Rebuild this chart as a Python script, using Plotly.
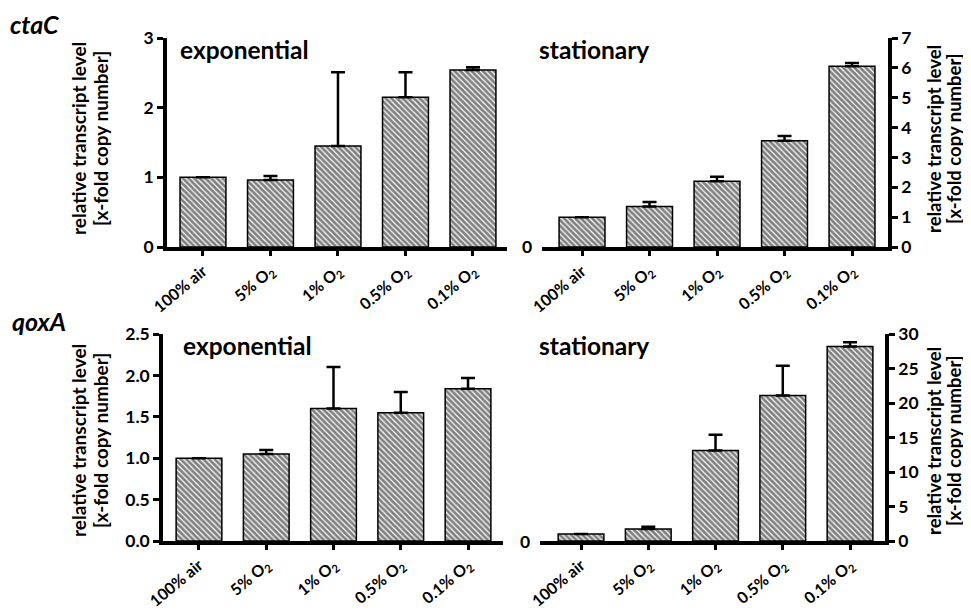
import plotly.graph_objects as go

categories = ["100% air", "5% O<sub>2</sub>", "1% O<sub>2</sub>", "0.5% O<sub>2</sub>", "0.1% O<sub>2</sub>"]

ctaC_exp = [1.0, 0.96, 1.45, 2.15, 2.54]
ctaC_exp_err = [0.0, 0.06, 1.06, 0.36, 0.04]
ctaC_stat = [1.0, 1.36, 2.2, 3.56, 6.05]
ctaC_stat_err = [0.0, 0.15, 0.15, 0.16, 0.11]

qoxA_exp = [1.0, 1.05, 1.6, 1.55, 1.84]
qoxA_exp_err = [0.0, 0.05, 0.5, 0.25, 0.13]
qoxA_stat = [1.0, 1.75, 13.1, 21.1, 28.2]
qoxA_stat_err = [0.0, 0.3, 2.3, 4.3, 0.6]

FONT = "Lato"
OFF = 8  # page body margin
W, H = 971 - OFF, 616 - OFF

fig = go.Figure()

panels = [
    ("x", "y", ctaC_exp, ctaC_exp_err),
    ("x2", "y2", ctaC_stat, ctaC_stat_err),
    ("x3", "y3", qoxA_exp, qoxA_exp_err),
    ("x4", "y4", qoxA_stat, qoxA_stat_err),
]
for xa, ya, vals, errs in panels:
    fig.add_trace(go.Bar(
        x=list(range(len(categories))), y=vals, xaxis=xa, yaxis=ya,
        marker=dict(color="white", line=dict(color="black", width=1.5),
                    pattern=dict(shape="\\", fgcolor="black", bgcolor="white", size=4, solidity=0.7)),
        error_y=dict(type="data", symmetric=False, array=errs, arrayminus=[0]*len(errs),
                     color="black", thickness=2.5, width=7),
        showlegend=False,
    ))

def px(v):
    return (v - OFF) / W

def py(v):
    return (H - (v - OFF)) / H

top_dom = [py(247), py(38)]
bot_dom = [py(541), py(334)]

xcommon = dict(tickmode="array", tickvals=list(range(5)), ticktext=categories, tickangle=-40,
               showline=True, linecolor="black", linewidth=3.5, ticks="outside", ticklen=5,
               tickwidth=3, tickcolor="black", showgrid=False, zeroline=False, automargin=False,
               tickfont=dict(family=FONT, size=16, color="black", weight="bold"))
ycommon = dict(showline=True, linecolor="black", linewidth=3.5, ticks="outside", ticklen=6,
               tickwidth=3, tickcolor="black", showgrid=False, zeroline=False, automargin=False,
               tickfont=dict(family=FONT, size=17.5, color="black", weight="bold"))

fig.update_layout(
    width=W, height=H, margin=dict(l=0, r=0, t=0, b=0, pad=0, autoexpand=False),
    paper_bgcolor="white", plot_bgcolor="white", bargap=0.32,
    xaxis=dict(domain=[px(167), px(507)], range=[-0.533, 4.504], anchor="y", **xcommon),
    yaxis=dict(domain=top_dom, range=[0, 3], tickvals=[0, 1, 2, 3], anchor="x", **ycommon),
    xaxis2=dict(domain=[px(542), px(888)], range=[-0.593, 4.533], anchor="y2", **xcommon),
    yaxis2=dict(domain=top_dom, range=[0, 7], tickvals=list(range(8)), anchor="x2", side="right", **ycommon),
    xaxis3=dict(domain=[px(163), px(503)], range=[-0.535, 4.52], anchor="y3", **xcommon),
    yaxis3=dict(domain=bot_dom, range=[0, 2.5], tickvals=[0, 0.5, 1, 1.5, 2, 2.5],
                tickformat=".1f", anchor="x3", **ycommon),
    xaxis4=dict(domain=[px(540), px(885)], range=[-0.61, 4.52], anchor="y4", **xcommon),
    yaxis4=dict(domain=bot_dom, range=[0, 30], tickvals=[0, 5, 10, 15, 20, 25, 30], anchor="x4",
                side="right", **ycommon),
)

title_line1 = "relative transcript level"
title_line2 = "[x-fold copy number]"
ann = []
def add_text(text, x, y, size, italic=False, angle=0, xanchor="left"):
    ann.append(dict(text=text, x=px(x), y=py(y), xref="paper", yref="paper", showarrow=False,
                    xanchor=xanchor, yanchor="middle", textangle=angle,
                    font=dict(family=FONT, size=size, color="black", weight="bold",
                              style="italic" if italic else "normal")))

add_text("ctaC", 8, 24, 25, italic=True)
add_text("qoxA", 10, 321, 25, italic=True)
add_text("exponential", 178, 49, 24.5)
add_text("stationary", 537, 49, 24.5)
add_text("exponential", 181, 345, 24.5)
add_text("stationary", 537, 345, 24.5)
add_text("0", 527, 247, 17.5, xanchor="center")
add_text("0", 525, 541, 17.5, xanchor="center")
for yc in (139, 441):
    add_text(title_line1, 78, yc, 19, angle=-90, xanchor="center")
    add_text(title_line2, 100, yc, 19, angle=-90, xanchor="center")
    add_text(title_line1, 934, yc, 18.5, angle=-90, xanchor="center")
    add_text(title_line2, 954, yc, 18.5, angle=-90, xanchor="center")
fig.update_layout(annotations=ann)

fig.write_html("out.html")
